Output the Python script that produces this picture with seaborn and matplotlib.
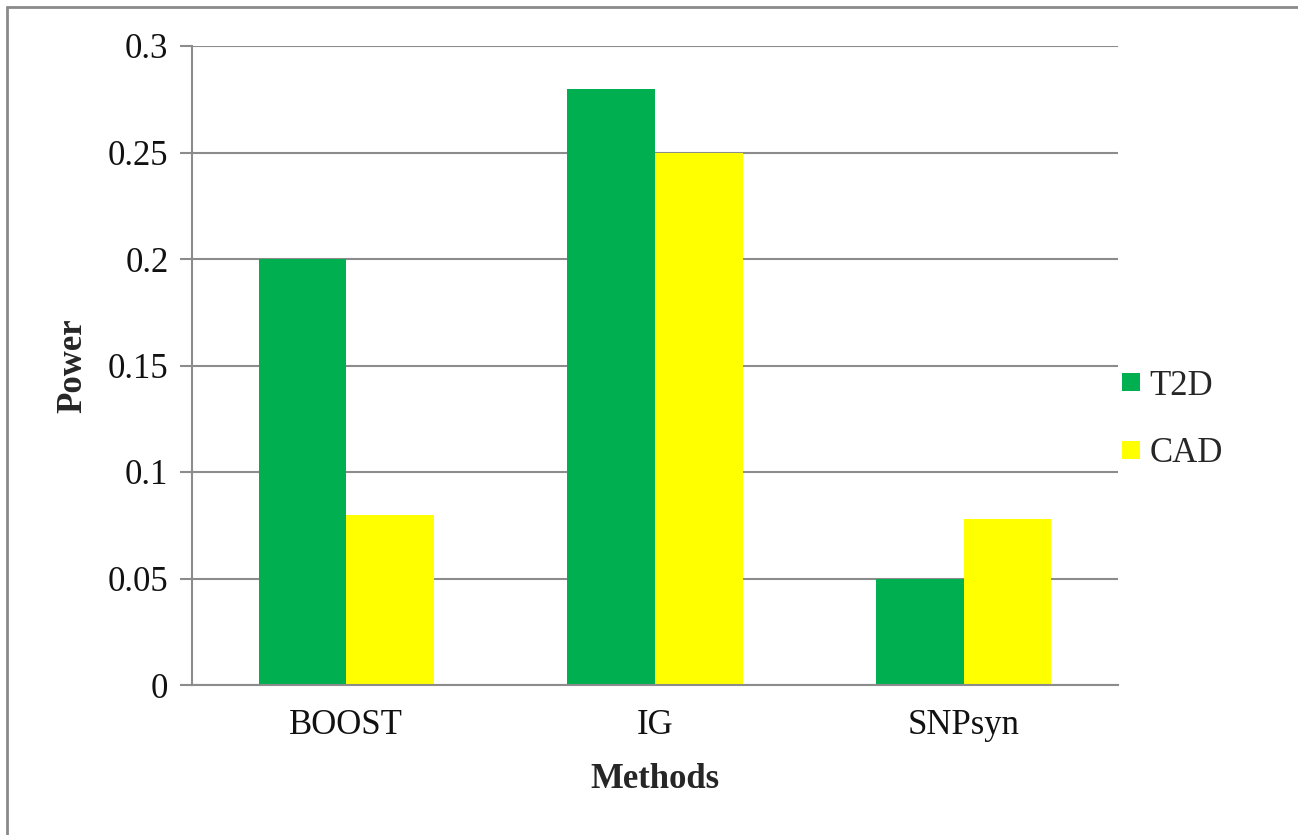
import pandas as pd
import matplotlib
matplotlib.use("Agg")
import matplotlib.pyplot as plt
from matplotlib.lines import Line2D
import seaborn as sns

methods = ["BOOST", "IG", "SNPsyn"]
t2d = [0.2, 0.28, 0.05]
cad = [0.08, 0.25, 0.078]
series = ["T2D", "CAD"]
colors = {"T2D": "#00B050", "CAD": "#FFFF00"}
yticks = [0, 0.05, 0.1, 0.15, 0.2, 0.25, 0.3]
ytick_labels = ["0", "0.05", "0.1", "0.15", "0.2", "0.25", "0.3"]

df = pd.DataFrame({
    "Methods": methods * 2,
    "Power": t2d + cad,
    "Series": ["T2D"] * 3 + ["CAD"] * 3,
})

sns.set_style("white")
plt.rcParams["font.family"] = ["Liberation Serif", "DejaVu Serif"]

W, H = 1298, 835
fig = plt.figure(figsize=(W / 100, H / 100), dpi=100)
ax = fig.add_axes([192 / W, 1 - 685 / H, (1118 - 192) / W, (685 - 46) / H])

sns.barplot(data=df, x="Methods", y="Power", hue="Series", hue_order=series,
            palette=colors, saturation=1, width=0.567, gap=0, ax=ax,
            linewidth=0, legend=False)

grid_c = "#8c8c8c"
ax.set_ylim(0, 0.3)
ax.set_xlim(-0.5, 2.5)
ax.set_yticks(yticks)
ax.set_yticklabels(ytick_labels)
ax.yaxis.grid(True, color=grid_c, linewidth=1.5)
ax.set_axisbelow(True)
for s in ["top", "right"]:
    ax.spines[s].set_visible(False)
for s in ["left", "bottom"]:
    ax.spines[s].set_color(grid_c)
    ax.spines[s].set_linewidth(1.5)
ax.tick_params(axis="y", left=True, length=9, width=1.5, color=grid_c,
               labelsize=25, pad=8, labelcolor="#111111")
ax.tick_params(axis="x", bottom=False, labelsize=25, pad=14, labelcolor="#111111")
ax.set_xlabel("Methods", fontsize=25, fontweight="bold")
ax.set_ylabel("Power", fontsize=25, fontweight="bold")
ax.xaxis.set_label_coords(0.5, (685 - 763) / 639)
ax.yaxis.set_label_coords((89 - 192) / 926, 0.5)

handles = [Line2D([0], [0], marker="s", linestyle="", markersize=13,
                  markerfacecolor=colors[s], markeredgewidth=0) for s in series]
fig.legend(handles, series, loc="center left", bbox_to_anchor=(1082 / W, 1 - 420 / H),
           frameon=False, fontsize=25, handletextpad=0.05, labelspacing=1.0,
           handlelength=1.0)

# outer chart border (only top and left visible in the crop)
fig.add_artist(Line2D([7 / W, 1.0], [1 - 7 / H, 1 - 7 / H], transform=fig.transFigure,
                      color="#8a8a8a", linewidth=2))
fig.add_artist(Line2D([7 / W, 7 / W], [0.0, 1 - 7 / H], transform=fig.transFigure,
                      color="#8a8a8a", linewidth=2))

fig.savefig("out.png", dpi=100, facecolor="white")
